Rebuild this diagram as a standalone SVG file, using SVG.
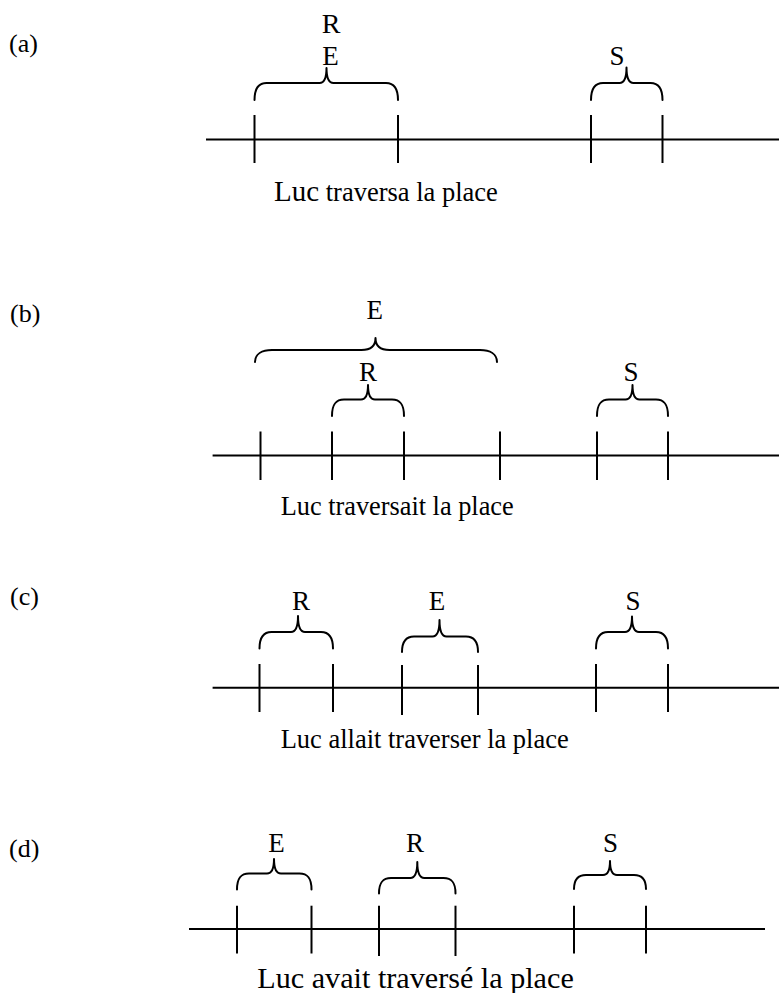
<svg xmlns="http://www.w3.org/2000/svg" width="779" height="993" viewBox="0 0 779 993">
  <style>
    .bg { fill: #ffffff; }
    .axis, .tick { stroke: #000; stroke-width: 2; fill: none; }
    .brace { stroke: #000; stroke-width: 2; fill: none; stroke-linecap: round; stroke-linejoin: round; }
    text { font-family: "Liberation Serif", "Times New Roman", serif; fill: #000; }
    .tag { font-size: 26px; }
    .sym { font-size: 27px; text-anchor: middle; }
    .cap { font-size: 26.5px; }
  </style>
  <rect class="bg" x="0" y="0" width="779" height="993"/>

  <!-- (a) Luc traversa la place -->
  <g id="panel-a">
    <text class="tag" x="9" y="52">(a)</text>
    <g id="a-RE">
      <text class="sym" x="331" y="33" style="font-size:28px">R</text>
      <text class="sym" x="330.5" y="65">E</text>
      <path class="brace" d="M 254.5 100 C 254.5 88 258.5 83 266.5 83 L 319.5 83 Q 326.5 83 326.5 68 Q 326.5 83 333.5 83 L 386 83 C 394 83 398 88 398 100"/>
    </g>
    <g id="a-S">
      <text class="sym" x="617" y="65">S</text>
      <path class="brace" d="M 591 100 C 591 88 595 83 603 83 L 619.5 83 Q 626.5 83 626.5 67.5 Q 626.5 83 633.5 83 L 650.5 83 C 658.5 83 662.5 88 662.5 100"/>
    </g>
    <g id="a-axis">
      <line class="axis" x1="206" y1="139.5" x2="779" y2="139.5"/>
      <line class="tick" x1="254.5" y1="115" x2="254.5" y2="163"/>
      <line class="tick" x1="398" y1="115" x2="398" y2="163"/>
      <line class="tick" x1="591" y1="115" x2="591" y2="163"/>
      <line class="tick" x1="662.5" y1="115" x2="662.5" y2="163"/>
    </g>
    <text class="cap" x="274" y="201"><tspan style="font-size:29px">Luc</tspan> traversa la place</text>
  </g>

  <!-- (b) Luc traversait la place -->
  <g id="panel-b">
    <text class="tag" x="10" y="322">(b)</text>
    <g id="b-E">
      <text class="sym" x="374.7" y="319">E</text>
      <path class="brace" d="M 255 362 C 255 354 262 350 272 350 L 361.5 350 Q 375.5 350 375.5 338 Q 375.5 350 389.5 350 L 480 350 C 490 350 497 354 497 362"/>
    </g>
    <g id="b-R">
      <text class="sym" x="368" y="381">R</text>
      <path class="brace" d="M 332 416 C 332 404 336 399.5 344 399.5 L 361 399.5 Q 368 399.5 368 385 Q 368 399.5 375 399.5 L 392 399.5 C 400 399.5 404 404 404 416"/>
    </g>
    <g id="b-S">
      <text class="sym" x="631" y="381">S</text>
      <path class="brace" d="M 597 416 C 597 404 601 399.5 609 399.5 L 625.5 399.5 Q 632.5 399.5 632.5 385 Q 632.5 399.5 639.5 399.5 L 656 399.5 C 664 399.5 668 404 668 416"/>
    </g>
    <g id="b-axis">
      <line class="axis" x1="212.6" y1="455.5" x2="779" y2="455.5"/>
      <line class="tick" x1="260.5" y1="431.5" x2="260.5" y2="480"/>
      <line class="tick" x1="332" y1="431.5" x2="332" y2="480"/>
      <line class="tick" x1="404" y1="431.5" x2="404" y2="480"/>
      <line class="tick" x1="500" y1="431.5" x2="500" y2="480"/>
      <line class="tick" x1="597" y1="431.5" x2="597" y2="480"/>
      <line class="tick" x1="668" y1="431.5" x2="668" y2="480"/>
    </g>
    <text class="cap" x="280.7" y="515" textLength="233" lengthAdjust="spacingAndGlyphs">Luc traversait la place</text>
  </g>

  <!-- (c) Luc allait traverser la place -->
  <g id="panel-c">
    <text class="tag" x="10" y="605">(c)</text>
    <g id="c-R">
      <text class="sym" x="301" y="609.5">R</text>
      <path class="brace" d="M 259.5 648.5 C 259.5 637 263.5 632 271.5 632 L 291 632 Q 298 632 298 616 Q 298 632 305 632 L 321 632 C 329 632 333 637 333 648.5"/>
    </g>
    <g id="c-E">
      <text class="sym" x="437" y="609.5">E</text>
      <path class="brace" d="M 402 652 C 402 641 406 636.5 414 636.5 L 432.5 636.5 Q 439.5 636.5 439.5 620 Q 439.5 636.5 446.5 636.5 L 466 636.5 C 474 636.5 478 641 478 652"/>
    </g>
    <g id="c-S">
      <text class="sym" x="633" y="609.5">S</text>
      <path class="brace" d="M 596 648.5 C 596 637 600 632 608 632 L 625 632 Q 632 632 632 616.5 Q 632 632 639 632 L 656 632 C 664 632 668 637 668 648.5"/>
    </g>
    <g id="c-axis">
      <line class="axis" x1="212.6" y1="687.7" x2="779" y2="687.7"/>
      <line class="tick" x1="259.5" y1="664" x2="259.5" y2="712"/>
      <line class="tick" x1="333" y1="664" x2="333" y2="712"/>
      <line class="tick" x1="402" y1="665" x2="402" y2="715"/>
      <line class="tick" x1="478" y1="665" x2="478" y2="715"/>
      <line class="tick" x1="596" y1="664" x2="596" y2="712"/>
      <line class="tick" x1="668" y1="664" x2="668" y2="712"/>
    </g>
    <text class="cap" x="280.7" y="748" textLength="288" lengthAdjust="spacingAndGlyphs">Luc allait traverser la place</text>
  </g>

  <!-- (d) Luc avait traversé la place -->
  <g id="panel-d">
    <text class="tag" x="9" y="857">(d)</text>
    <g id="d-E">
      <text class="sym" x="276.5" y="851.5">E</text>
      <path class="brace" d="M 237 889.5 C 237 878 241 873.5 249 873.5 L 267 873.5 Q 274 873.5 274 859 Q 274 873.5 281 873.5 L 299.5 873.5 C 307.5 873.5 311.5 878 311.5 889.5"/>
    </g>
    <g id="d-R">
      <text class="sym" x="415" y="851.5">R</text>
      <path class="brace" d="M 379 893.5 C 379 882 383 878 391 878 L 410.3 878 Q 417.3 878 417.3 862 Q 417.3 878 424.3 878 L 443.5 878 C 451.5 878 455.5 882 455.5 893.5"/>
    </g>
    <g id="d-S">
      <text class="sym" x="610.5" y="851.5">S</text>
      <path class="brace" d="M 574 889 C 574 879 578 875 586 875 L 603 875 Q 610 875 610 861 Q 610 875 617 875 L 634 875 C 642 875 646 879 646 889"/>
    </g>
    <g id="d-axis">
      <line class="axis" x1="189" y1="929" x2="765" y2="929"/>
      <line class="tick" x1="237" y1="905.7" x2="237" y2="953.5"/>
      <line class="tick" x1="311.5" y1="905.7" x2="311.5" y2="953.5"/>
      <line class="tick" x1="379" y1="905.7" x2="379" y2="956"/>
      <line class="tick" x1="455.5" y1="905.7" x2="455.5" y2="956"/>
      <line class="tick" x1="574" y1="905.7" x2="574" y2="953.5"/>
      <line class="tick" x1="646" y1="905.7" x2="646" y2="953.5"/>
    </g>
    <text class="cap" x="257.3" y="987.5" style="font-size:29px" textLength="316.5" lengthAdjust="spacingAndGlyphs">Luc avait traversé la place</text>
  </g>
</svg>
